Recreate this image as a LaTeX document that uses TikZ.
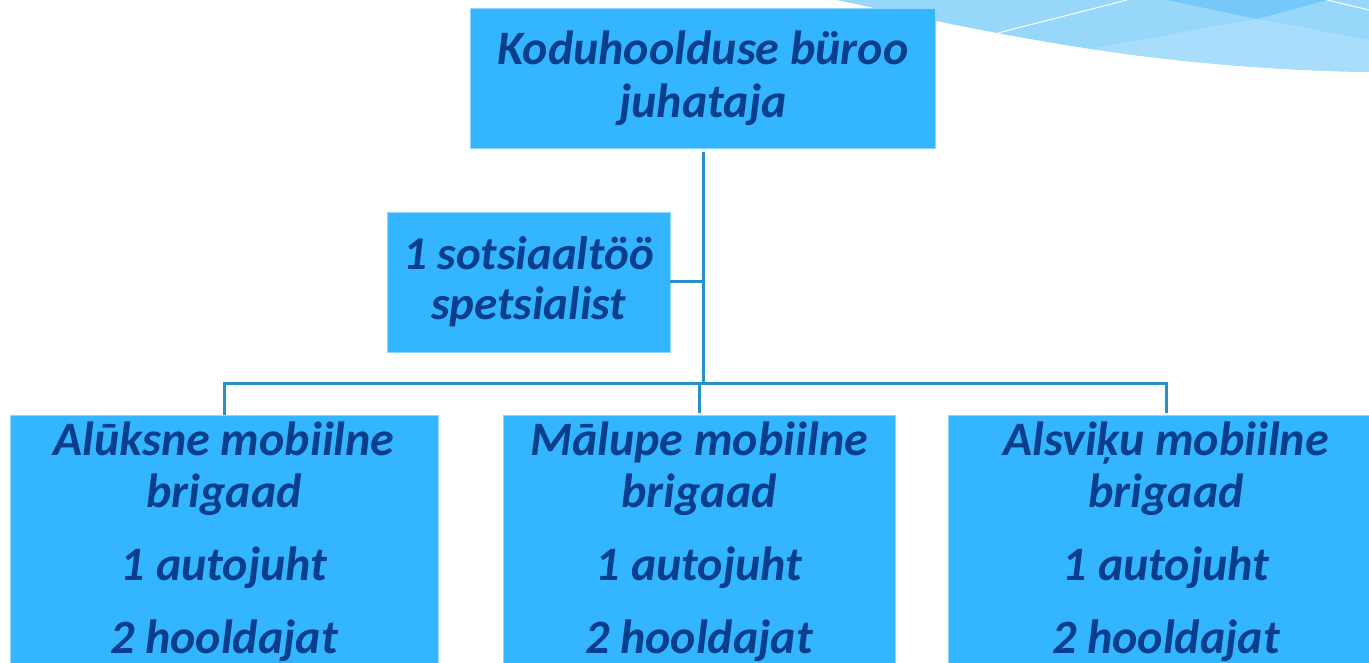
\documentclass[tikz,border=0pt]{standalone}
\usepackage{fontspec}
\setmainfont{Carlito}
\usepackage{tikz}
\usetikzlibrary{calc,positioning}
\definecolor{boxblue}{RGB}{51,181,255}
\definecolor{txtblue}{RGB}{8,62,140}
\definecolor{linkblue}{RGB}{41,143,204}
\definecolor{swoosh}{RGB}{151,215,250}
\definecolor{swooshdark}{RGB}{116,201,250}
\definecolor{swooshlight}{RGB}{168,222,252}

\begin{document}
\begin{tikzpicture}[x=1pt,y=-1pt]
        \tikzstyle{bnode} = [fill=boxblue, draw=boxblue!55!white, line width=0.8pt, inner sep=0pt, text=txtblue, align=center]
        \tikzstyle{link} = [draw=linkblue, line width=3pt]
        \useasboundingbox (0,0) rectangle (1369,663);

        % swoosh in the upper right corner
        \begin{scope}
          \clip (837,0) .. controls (1000,35) and (1150,68) .. (1369,72) -- (1369,0) -- cycle;
          \fill[swoosh] (830,0) rectangle (1369,80);
          \fill[swooshdark] (1167,0) -- (1327,0) -- (1257,19) -- cycle;
          \fill[swooshlight] (900,90) -- (1100,47) -- (1257,19) -- (1369,40) -- (1369,90) -- cycle;
          \draw[white, line width=1pt] (998,33) -- (1127,0);
          \draw[white, line width=1pt] (1327,0) -- (1369,10);
        \end{scope}

        \node[bnode, minimum width=465pt, minimum height=140pt, font=\bfseries\itshape\fontsize{48}{53}\selectfont] (head) at (703,78) {Koduhoolduse büroo\\juhataja};
        \node[bnode, minimum width=283pt, minimum height=140pt, font=\bfseries\itshape\fontsize{47}{50}\selectfont] (spec) at (528.5,282) {1 sotsiaaltöö\\spetsialist};

        \node[bnode, minimum width=428pt, minimum height=280pt, anchor=north] (alu) at (224,415) {};
        \node[bnode, minimum width=392pt, minimum height=280pt, anchor=north] (malu) at (699,415) {};
        \node[bnode, minimum width=436pt, minimum height=280pt, anchor=north] (alsv) at (1166,415) {};

        \tikzstyle{btext} = [text=txtblue, align=center, inner sep=0pt, anchor=north, font=\bfseries\itshape\fontsize{48}{52}\selectfont]
        \node[btext] (alut) at ($(alu.north)+(0,7)$) {Alūksne mobiilne\\brigaad\\[21pt]1 autojuht\\[21pt]2 hooldajat};
        \node[btext] (malut) at ($(malu.north)+(0,7)$) {Mālupe mobiilne\\brigaad\\[21pt]1 autojuht\\[21pt]2 hooldajat};
        \node[btext] (alsvt) at ($(alsv.north)+(0,7)$) {Alsviķu mobiilne\\brigaad\\[21pt]1 autojuht\\[21pt]2 hooldajat};

        \coordinate (bus) at (703,383);
        \draw[link, shorten <=4pt] (head.south) -- (head.south |- bus);
        \draw[link] (spec.east) -- (spec.east -| head.south);
        \draw[link, shorten >=2pt] (alu.north) -- (alu.north |- bus) -- (alsv.north |- bus) -- (alsv.north);
        \draw[link, shorten >=2pt] (malu.north |- bus) -- (malu.north);
\end{tikzpicture}
\end{document}
